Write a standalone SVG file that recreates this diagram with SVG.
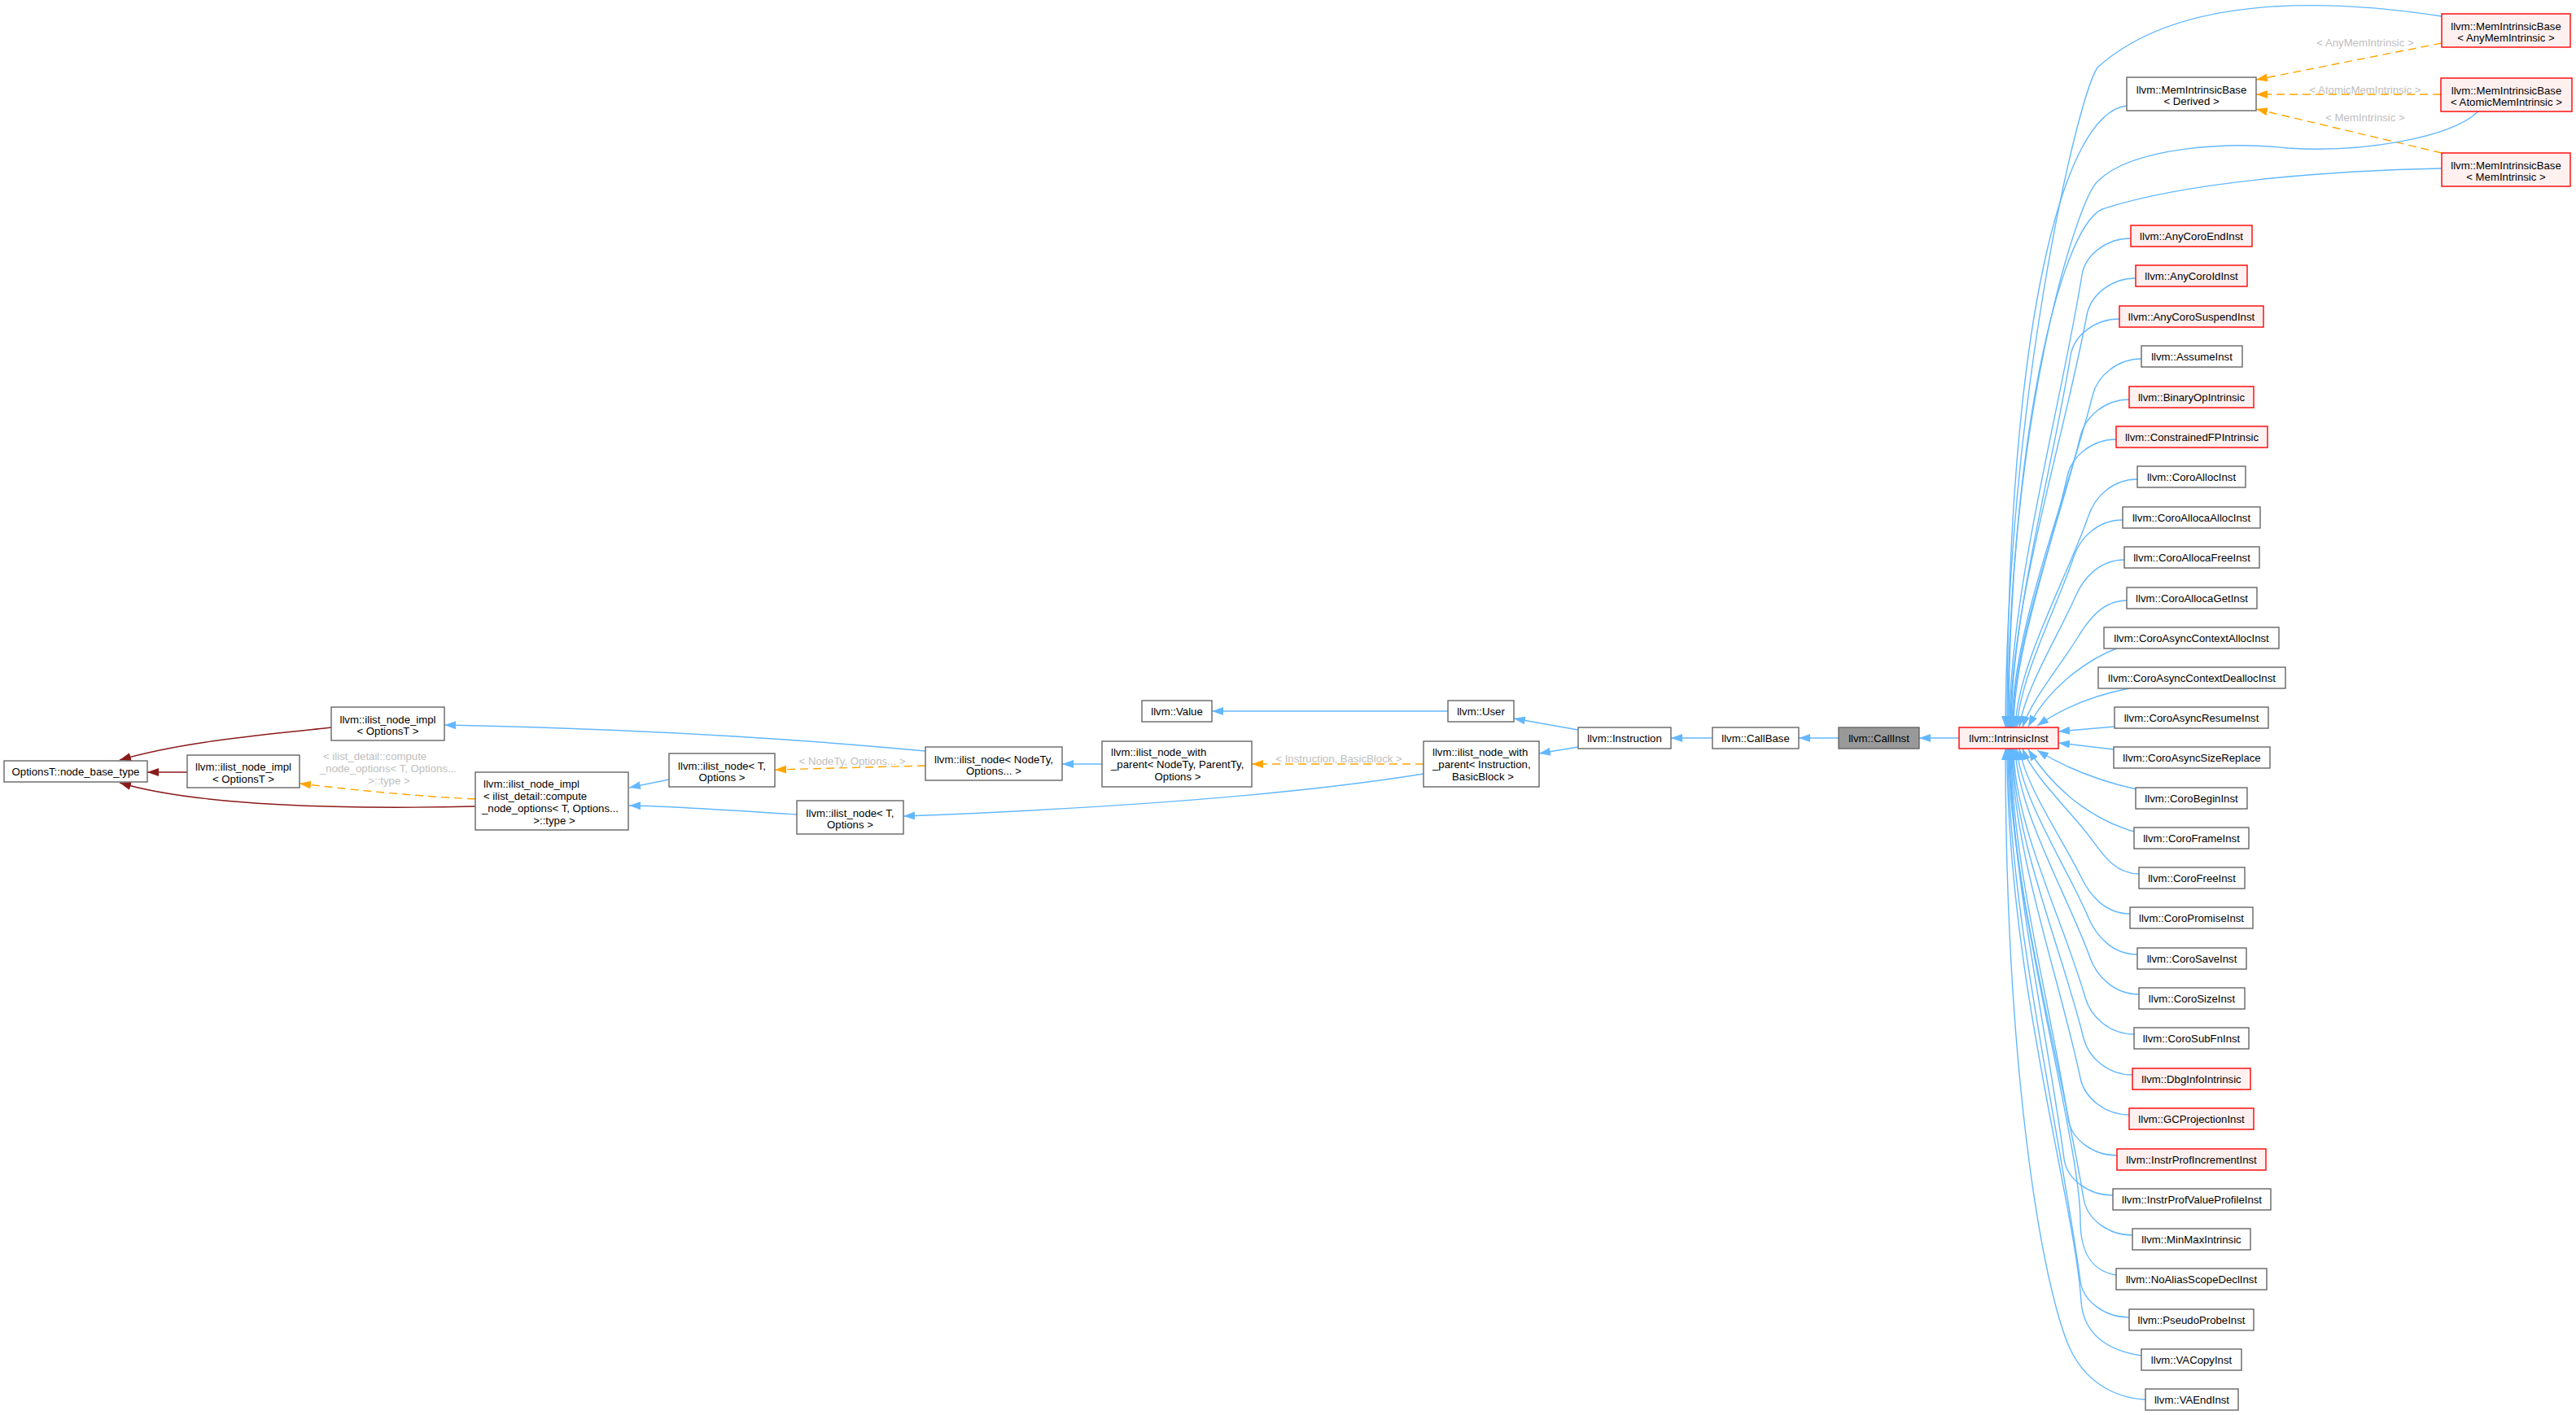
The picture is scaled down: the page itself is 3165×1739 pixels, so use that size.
<svg xmlns="http://www.w3.org/2000/svg" width="3165" height="1739" viewBox="0 0 3165 1739">
<style>
text{font-family:"Liberation Sans",Arial,Helvetica,sans-serif;font-size:13.2px;fill:#000}
.c{text-anchor:middle}
.lbl{fill:#BEBEBE}
.nw{fill:#fff;stroke:#666;stroke-width:1.4}
.nr{fill:#FFF0F0;stroke:#FF0000;stroke-width:1.4}
.ng{fill:#999;stroke:#666;stroke-width:1.4}
.eb{fill:none;stroke:#63B8FF;stroke-width:1.4;marker-end:url(#ab)}
.eo{fill:none;stroke:#FFA500;stroke-width:1.4;stroke-dasharray:10,6;marker-end:url(#ao)}
.er{fill:none;stroke:#8B1A1A;stroke-width:1.4;marker-end:url(#ar)}
</style>
<defs>
<marker id="ab" markerUnits="userSpaceOnUse" markerWidth="14" markerHeight="10" viewBox="0 0 14 10" refX="14" refY="5" orient="auto"><path d="M0,0L14,5L0,10z" fill="#63B8FF"/></marker>
<marker id="ao" markerUnits="userSpaceOnUse" markerWidth="14" markerHeight="10" viewBox="0 0 14 10" refX="14" refY="5" orient="auto"><path d="M0,0L14,5L0,10z" fill="#FFA500"/></marker>
<marker id="ar" markerUnits="userSpaceOnUse" markerWidth="14" markerHeight="10" viewBox="0 0 14 10" refX="14" refY="5" orient="auto"><path d="M0,0L14,5L0,10z" fill="#8B1A1A"/></marker>
</defs>
<rect width="3165" height="1739" fill="#fff"/>
<g id="connectors">
<path class="er" d="M407,894 C330,903 230,910 147,934"/>
<path class="er" d="M230,949 L181,949"/>
<path class="er" d="M584,991 C420,995 240,990 147,962"/>
<path class="eo" d="M584,982 C500,978 430,970 368,963"/>
<path class="eb" d="M1137,923 C1000,910 800,896 546,891"/>
<path class="eb" d="M822,958 L773,968"/>
<path class="eb" d="M979,1001 C900,996 830,991 773,990"/>
<path class="eo" d="M1137,941 L952,946"/>
<path class="eb" d="M1354,939 L1305,939"/>
<path class="eo" d="M1749,939 L1538,939"/>
<path class="eb" d="M1749,951 C1600,975 1400,992 1110,1003"/>
<path class="eb" d="M1779,874 L1489,874"/>
<path class="eb" d="M1939,897 L1860,883"/>
<path class="eb" d="M1939,918 L1891,926"/>
<path class="eb" d="M2104,907 L2053,907"/>
<path class="eb" d="M2259,907 L2210,907"/>
<path class="eb" d="M2407,907 L2358,907"/>
<path class="eo" d="M3000,53 L2772,98"/>
<path class="eo" d="M2999,116 L2772,116"/>
<path class="eo" d="M3000,188 L2772,134"/>
<text class="lbl" x="397" y="933.5">&lt; ilist_detail::compute</text>
<text class="lbl" x="393" y="948.5">_node_options&lt; T, Options...</text>
<text class="lbl c" x="478" y="963.5">&gt;::type &gt;</text>
<text class="lbl c" x="1047" y="939.5">&lt; NodeTy, Options... &gt;</text>
<text class="lbl c" x="1645" y="936.5">&lt; Instruction, BasicBlock &gt;</text>
<text class="lbl c" x="2906" y="56.5">&lt; AnyMemIntrinsic &gt;</text>
<text class="lbl c" x="2906" y="114.5">&lt; AtomicMemIntrinsic &gt;</text>
<text class="lbl c" x="2906" y="148.5">&lt; MemIntrinsic &gt;</text>
<path class="eb" d="M3000,20 C2870,0 2680,-10 2577,83 C2550,125 2466,500 2464,894"/>
<path class="eb" d="M2613,130 C2535,138 2466,400 2466,894"/>
<path class="eb" d="M3045,137 C3010,170 2900,188 2811,182 C2740,174 2620,180 2577,223 C2550,250 2467,520 2467,894"/>
<path class="eb" d="M3000,207 C2850,210 2680,225 2583,257 C2530,280 2468,550 2468,894"/>
<path class="eb" d="M2618,293 C2588,293 2562,313 2558,338 C2531,505 2469,727 2469,894"/>
<path class="eb" d="M2624,342 C2594,342 2569,362 2564,387 C2536,539 2470,742 2470,894"/>
<path class="eb" d="M2604,392 C2574,392 2548,412 2544,437 C2522,574 2471,757 2471,894"/>
<path class="eb" d="M2631,441 C2601,441 2577,462 2571,486 C2541,608 2472,772 2472,894"/>
<path class="eb" d="M2616,491 C2586,491 2562,512 2556,536 C2531,643 2473,787 2473,894"/>
<path class="eb" d="M2600,540 C2570,540 2545,561 2540,585 C2520,678 2474,801 2474,894"/>
<path class="eb" d="M2626,589 C2596,589 2574,610 2566,634 C2539,712 2479,816 2476,894"/>
<path class="eb" d="M2608,639 C2578,639 2556,660 2548,684 C2527,747 2482,831 2478,894"/>
<path class="eb" d="M2610,688 C2580,688 2560,710 2550,733 C2529,781 2488,846 2481,894"/>
<path class="eb" d="M2613,738 C2583,738 2566,762 2553,783 C2533,816 2495,861 2485,894"/>
<path class="eb" d="M2603,796 C2570,808 2520,840 2492,893"/>
<path class="eb" d="M2616,846 C2580,853 2540,866 2503,892"/>
<path class="eb" d="M2598,893 L2529,899"/>
<path class="eb" d="M2597,921 L2529,913"/>
<path class="eb" d="M2625,970 C2580,960 2540,945 2503,922"/>
<path class="eb" d="M2622,1022 C2580,1010 2530,980 2492,921"/>
<path class="eb" d="M2628,1074 C2598,1074 2583,1049 2568,1029 C2543,996 2497,953 2485,920"/>
<path class="eb" d="M2617,1123 C2587,1123 2568,1101 2557,1078 C2534,1031 2489,967 2481,920"/>
<path class="eb" d="M2626,1173 C2596,1173 2576,1151 2566,1128 C2540,1066 2483,982 2478,920"/>
<path class="eb" d="M2628,1222 C2598,1222 2576,1200 2568,1177 C2540,1100 2479,997 2476,920"/>
<path class="eb" d="M2622,1271 C2592,1271 2569,1250 2562,1226 C2536,1134 2474,1012 2474,920"/>
<path class="eb" d="M2620,1321 C2590,1321 2566,1300 2560,1276 C2534,1169 2473,1027 2473,920"/>
<path class="eb" d="M2616,1370 C2586,1370 2561,1349 2556,1325 C2531,1204 2472,1042 2472,920"/>
<path class="eb" d="M2601,1420 C2571,1420 2545,1400 2541,1375 C2520,1239 2471,1057 2471,920"/>
<path class="eb" d="M2596,1469 C2566,1469 2539,1449 2536,1424 C2516,1273 2470,1071 2470,920"/>
<path class="eb" d="M2620,1518 C2590,1518 2564,1498 2560,1473 C2533,1307 2469,1086 2469,920"/>
<path class="eb" d="M2600,1567 C2570,1562 2556,1540 2556,1500 C2556,1400 2468,1100 2468,920"/>
<path class="eb" d="M2616,1619 C2586,1619 2559,1599 2556,1574 C2529,1378 2467,1116 2467,920"/>
<path class="eb" d="M2631,1666 C2590,1660 2560,1640 2557,1600 C2550,1480 2466,1200 2466,920"/>
<path class="eb" d="M2636,1720 C2600,1718 2560,1700 2540,1650 C2505,1560 2464,1300 2464,920"/>
</g>
<g id="node-OptionsT-node_base_type"><rect class="nw" x="5" y="935" width="176" height="26"/><text class="c" x="93" y="952.5">OptionsT::node_base_type</text></g>
<g id="node-ilist_node_impl-OptionsT-1"><rect class="nw" x="407" y="869" width="139" height="41"/><text class="c" x="476.5" y="888.5">llvm::ilist_node_impl</text><text class="c" x="476.5" y="903">&lt; OptionsT &gt;</text></g>
<g id="node-ilist_node_impl-OptionsT-2"><rect class="nw" x="230" y="928" width="138" height="40"/><text class="c" x="299" y="947">llvm::ilist_node_impl</text><text class="c" x="299" y="961.5">&lt; OptionsT &gt;</text></g>
<g id="node-ilist_node_impl-compute"><rect class="nw" x="584" y="949" width="188" height="71"/><text x="594" y="967.5">llvm::ilist_node_impl</text><text x="594" y="982.5">&lt; ilist_detail::compute</text><text x="592" y="997.5">_node_options&lt; T, Options...</text><text class="c" x="681" y="1012.5">&gt;::type &gt;</text></g>
<g id="node-ilist_node-T-1"><rect class="nw" x="822" y="926" width="130" height="41"/><text class="c" x="887" y="945.5">llvm::ilist_node&lt; T,</text><text class="c" x="887" y="960">Options &gt;</text></g>
<g id="node-ilist_node-NodeTy"><rect class="nw" x="1137" y="918" width="168" height="41"/><text class="c" x="1221" y="937.5">llvm::ilist_node&lt; NodeTy,</text><text class="c" x="1221" y="952">Options... &gt;</text></g>
<g id="node-ilist_node-T-2"><rect class="nw" x="979" y="984" width="131" height="41"/><text class="c" x="1044.5" y="1003.5">llvm::ilist_node&lt; T,</text><text class="c" x="1044.5" y="1018">Options &gt;</text></g>
<g id="node-ilist_node_with_parent-NodeTy"><rect class="nw" x="1354" y="911" width="184" height="56"/><text x="1365" y="928.5">llvm::ilist_node_with</text><text x="1365" y="943.5">_parent&lt; NodeTy, ParentTy,</text><text class="c" x="1447" y="958.5">Options &gt;</text></g>
<g id="node-Value"><rect class="nw" x="1403" y="861" width="86" height="26"/><text class="c" x="1446" y="878.5">llvm::Value</text></g>
<g id="node-User"><rect class="nw" x="1779" y="861" width="81" height="26"/><text class="c" x="1819.5" y="878.5">llvm::User</text></g>
<g id="node-ilist_node_with_parent-Instruction"><rect class="nw" x="1749" y="911" width="142" height="56"/><text x="1760" y="928.5">llvm::ilist_node_with</text><text x="1760" y="943.5">_parent&lt; Instruction,</text><text class="c" x="1822" y="958.5">BasicBlock &gt;</text></g>
<g id="node-Instruction"><rect class="nw" x="1939" y="894" width="114" height="26"/><text class="c" x="1996" y="911.5">llvm::Instruction</text></g>
<g id="node-CallBase"><rect class="nw" x="2104" y="894" width="106" height="26"/><text class="c" x="2157" y="911.5">llvm::CallBase</text></g>
<g id="node-CallInst"><rect class="ng" x="2259" y="894" width="99" height="26"/><text class="c" x="2308.5" y="911.5">llvm::CallInst</text></g>
<g id="node-IntrinsicInst"><rect class="nr" x="2407" y="894" width="122" height="26"/><text class="c" x="2468" y="911.5">llvm::IntrinsicInst</text></g>
<g id="node-MemIntrinsicBase-Derived"><rect class="nw" x="2613" y="95" width="159" height="41"/><text class="c" x="2692.5" y="114.5">llvm::MemIntrinsicBase</text><text class="c" x="2692.5" y="129">&lt; Derived &gt;</text></g>
<g id="node-MemIntrinsicBase-AnyMemIntrinsic"><rect class="nr" x="3000" y="17" width="158" height="41"/><text class="c" x="3079" y="36.5">llvm::MemIntrinsicBase</text><text class="c" x="3079" y="51">&lt; AnyMemIntrinsic &gt;</text></g>
<g id="node-MemIntrinsicBase-AtomicMemIntrinsic"><rect class="nr" x="2999" y="96" width="161" height="41"/><text class="c" x="3079.5" y="115.5">llvm::MemIntrinsicBase</text><text class="c" x="3079.5" y="130">&lt; AtomicMemIntrinsic &gt;</text></g>
<g id="node-MemIntrinsicBase-MemIntrinsic"><rect class="nr" x="3000" y="188" width="158" height="41"/><text class="c" x="3079" y="207.5">llvm::MemIntrinsicBase</text><text class="c" x="3079" y="222">&lt; MemIntrinsic &gt;</text></g>
<g id="node-AnyCoroEndInst"><rect class="nr" x="2618" y="277" width="149" height="26"/><text class="c" x="2692.5" y="294.5">llvm::AnyCoroEndInst</text></g>
<g id="node-AnyCoroIdInst"><rect class="nr" x="2624" y="326" width="137" height="26"/><text class="c" x="2692.5" y="343.5">llvm::AnyCoroIdInst</text></g>
<g id="node-AnyCoroSuspendInst"><rect class="nr" x="2604" y="376" width="177" height="26"/><text class="c" x="2692.5" y="393.5">llvm::AnyCoroSuspendInst</text></g>
<g id="node-AssumeInst"><rect class="nw" x="2631" y="425" width="124" height="26"/><text class="c" x="2693" y="442.5">llvm::AssumeInst</text></g>
<g id="node-BinaryOpIntrinsic"><rect class="nr" x="2616" y="475" width="153" height="26"/><text class="c" x="2692.5" y="492.5">llvm::BinaryOpIntrinsic</text></g>
<g id="node-ConstrainedFPIntrinsic"><rect class="nr" x="2600" y="524" width="186" height="26"/><text class="c" x="2693" y="541.5">llvm::ConstrainedFPIntrinsic</text></g>
<g id="node-CoroAllocInst"><rect class="nw" x="2626" y="573" width="133" height="26"/><text class="c" x="2692.5" y="590.5">llvm::CoroAllocInst</text></g>
<g id="node-CoroAllocaAllocInst"><rect class="nw" x="2608" y="623" width="169" height="26"/><text class="c" x="2692.5" y="640.5">llvm::CoroAllocaAllocInst</text></g>
<g id="node-CoroAllocaFreeInst"><rect class="nw" x="2610" y="672" width="166" height="26"/><text class="c" x="2693" y="689.5">llvm::CoroAllocaFreeInst</text></g>
<g id="node-CoroAllocaGetInst"><rect class="nw" x="2613" y="722" width="160" height="26"/><text class="c" x="2693" y="739.5">llvm::CoroAllocaGetInst</text></g>
<g id="node-CoroAsyncContextAllocInst"><rect class="nw" x="2585" y="771" width="215" height="26"/><text class="c" x="2692.5" y="788.5">llvm::CoroAsyncContextAllocInst</text></g>
<g id="node-CoroAsyncContextDeallocInst"><rect class="nw" x="2578" y="820" width="230" height="26"/><text class="c" x="2693" y="837.5">llvm::CoroAsyncContextDeallocInst</text></g>
<g id="node-CoroAsyncResumeInst"><rect class="nw" x="2598" y="869" width="189" height="26"/><text class="c" x="2692.5" y="886.5">llvm::CoroAsyncResumeInst</text></g>
<g id="node-CoroAsyncSizeReplace"><rect class="nw" x="2597" y="918" width="192" height="26"/><text class="c" x="2693" y="935.5">llvm::CoroAsyncSizeReplace</text></g>
<g id="node-CoroBeginInst"><rect class="nw" x="2624" y="968" width="137" height="26"/><text class="c" x="2692.5" y="985.5">llvm::CoroBeginInst</text></g>
<g id="node-CoroFrameInst"><rect class="nw" x="2622" y="1017" width="141" height="26"/><text class="c" x="2692.5" y="1034.5">llvm::CoroFrameInst</text></g>
<g id="node-CoroFreeInst"><rect class="nw" x="2628" y="1066" width="130" height="26"/><text class="c" x="2693" y="1083.5">llvm::CoroFreeInst</text></g>
<g id="node-CoroPromiseInst"><rect class="nw" x="2617" y="1115" width="151" height="26"/><text class="c" x="2692.5" y="1132.5">llvm::CoroPromiseInst</text></g>
<g id="node-CoroSaveInst"><rect class="nw" x="2626" y="1165" width="134" height="26"/><text class="c" x="2693" y="1182.5">llvm::CoroSaveInst</text></g>
<g id="node-CoroSizeInst"><rect class="nw" x="2628" y="1214" width="130" height="26"/><text class="c" x="2693" y="1231.5">llvm::CoroSizeInst</text></g>
<g id="node-CoroSubFnInst"><rect class="nw" x="2622" y="1263" width="141" height="26"/><text class="c" x="2692.5" y="1280.5">llvm::CoroSubFnInst</text></g>
<g id="node-DbgInfoIntrinsic"><rect class="nr" x="2620" y="1313" width="145" height="26"/><text class="c" x="2692.5" y="1330.5">llvm::DbgInfoIntrinsic</text></g>
<g id="node-GCProjectionInst"><rect class="nr" x="2616" y="1362" width="153" height="26"/><text class="c" x="2692.5" y="1379.5">llvm::GCProjectionInst</text></g>
<g id="node-InstrProfIncrementInst"><rect class="nr" x="2601" y="1412" width="183" height="26"/><text class="c" x="2692.5" y="1429.5">llvm::InstrProfIncrementInst</text></g>
<g id="node-InstrProfValueProfileInst"><rect class="nw" x="2596" y="1461" width="194" height="26"/><text class="c" x="2693" y="1478.5">llvm::InstrProfValueProfileInst</text></g>
<g id="node-MinMaxIntrinsic"><rect class="nw" x="2620" y="1510" width="145" height="26"/><text class="c" x="2692.5" y="1527.5">llvm::MinMaxIntrinsic</text></g>
<g id="node-NoAliasScopeDeclInst"><rect class="nw" x="2600" y="1559" width="185" height="26"/><text class="c" x="2692.5" y="1576.5">llvm::NoAliasScopeDeclInst</text></g>
<g id="node-PseudoProbeInst"><rect class="nw" x="2616" y="1609" width="153" height="26"/><text class="c" x="2692.5" y="1626.5">llvm::PseudoProbeInst</text></g>
<g id="node-VACopyInst"><rect class="nw" x="2631" y="1658" width="123" height="26"/><text class="c" x="2692.5" y="1675.5">llvm::VACopyInst</text></g>
<g id="node-VAEndInst"><rect class="nw" x="2636" y="1707" width="114" height="26"/><text class="c" x="2693" y="1724.5">llvm::VAEndInst</text></g>
</svg>
